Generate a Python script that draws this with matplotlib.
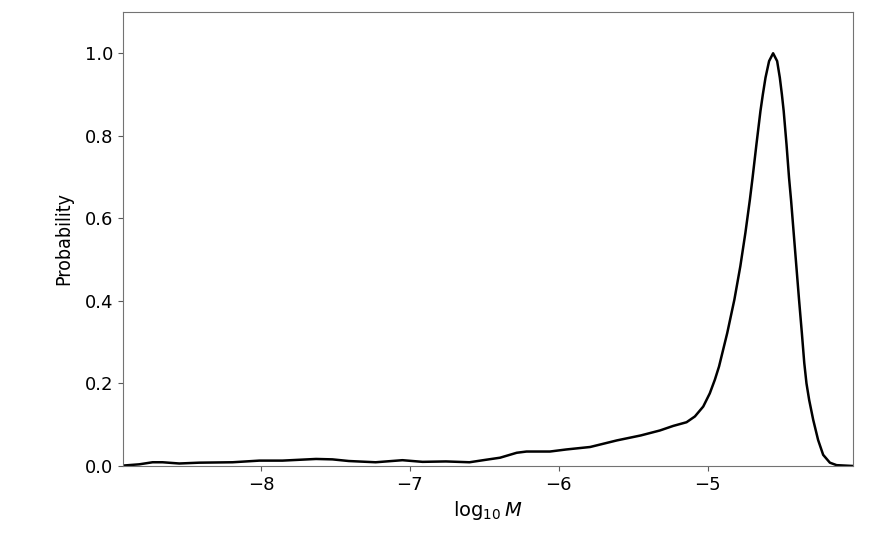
import matplotlib
matplotlib.use("Agg")
import matplotlib.pyplot as plt
from matplotlib import font_manager

# log10 M values and the probability
log_mass = [-8.924, -8.817, -8.727, -8.66, -8.548, -8.414, -8.19, -8.01,
            -7.855, -7.63, -7.52, -7.41, -7.23, -7.05, -6.915, -6.758,
            -6.6, -6.49, -6.395, -6.283, -6.217, -6.06, -5.95, -5.79,
            -5.61, -5.45, -5.322, -5.233, -5.143, -5.087, -5.031, -4.987,
            -4.953, -4.925, -4.870, -4.822, -4.782, -4.748, -4.718, -4.700,
            -4.674, -4.647, -4.631, -4.613, -4.589, -4.562, -4.535, -4.517,
            -4.503, -4.491, -4.472, -4.455, -4.441, -4.424, -4.406, -4.388,
            -4.369, -4.353, -4.338, -4.320, -4.293, -4.260, -4.226, -4.181,
            -4.136, -4.027]
prob = [0.001, 0.004, 0.009, 0.009, 0.006, 0.008, 0.009, 0.013,
        0.013, 0.017, 0.016, 0.012, 0.009, 0.014, 0.010, 0.011,
        0.009, 0.015, 0.020, 0.032, 0.035, 0.035, 0.040, 0.046,
        0.062, 0.074, 0.086, 0.097, 0.106, 0.120, 0.144, 0.176,
        0.209, 0.241, 0.322, 0.403, 0.484, 0.565, 0.645, 0.698,
        0.779, 0.860, 0.900, 0.941, 0.981, 1.0, 0.981, 0.941,
        0.900, 0.860, 0.779, 0.698, 0.642, 0.565, 0.484, 0.403,
        0.322, 0.250, 0.200, 0.160, 0.112, 0.063, 0.027, 0.008,
        0.002, 0.0]

x_ticks = [-8, -7, -6, -5]
y_ticks = [0.0, 0.2, 0.4, 0.6, 0.8, 1.0]

# narrow face for the y label if one is around
label_props = font_manager.FontProperties(family="DejaVu Sans", stretch="condensed", size=14)
if "Condensed" not in font_manager.findfont(label_props):
    names = {f.name for f in font_manager.fontManager.ttflist}
    for cand in ["Liberation Sans Narrow", "Roboto Condensed", "Open Sans Condensed"]:
        if cand in names:
            label_props = font_manager.FontProperties(family=cand, size=15)
            break
    else:
        label_props = font_manager.FontProperties(family="DejaVu Sans", size=12.5)

fig = plt.figure(figsize=(8.72, 5.45), dpi=100)
ax = fig.add_axes([0.141, 0.145, 0.837, 0.833])
ax.plot(log_mass, prob, color="black", linewidth=1.8)

ax.set_xlim(-8.926, -4.027)
ax.set_ylim(0, 1.1)
ax.set_xticks(x_ticks)
ax.set_yticks(y_ticks)
ax.set_xticklabels([f"\u2212{abs(t)}" for t in x_ticks])
ax.set_yticklabels([f"{t:.1f}" for t in y_ticks])
ax.tick_params(labelsize=13, color="0.35")
for sp in ax.spines.values():
    sp.set_color("0.45")

ax.set_xlabel(r"$\log_{10}M$", fontsize=14)
ax.set_ylabel("Probability", fontproperties=label_props)
ax.yaxis.set_label_coords(-0.068, 0.5)

fig.savefig("out.png", dpi=100)
